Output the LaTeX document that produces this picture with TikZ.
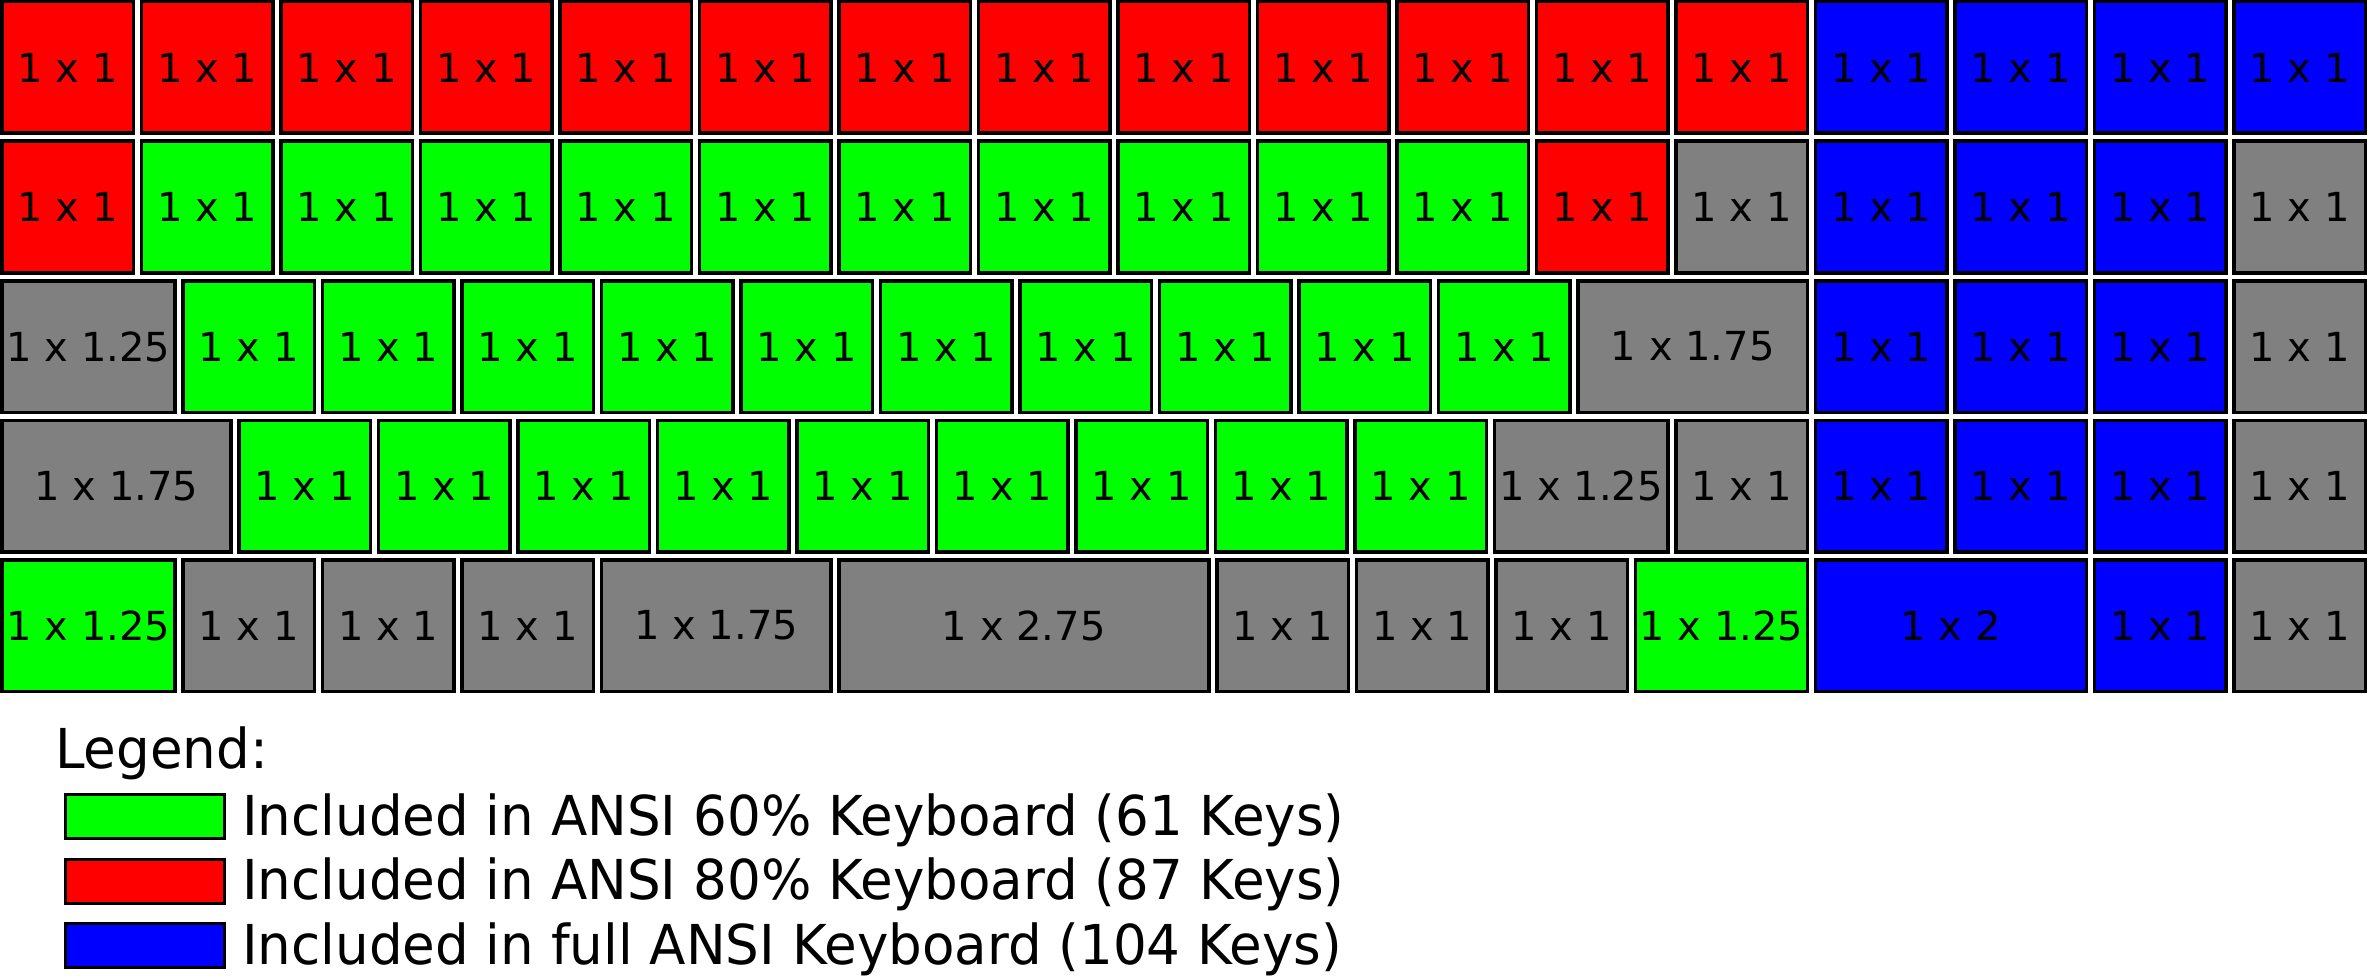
\documentclass[tikz,border=0pt]{standalone}
\usepackage{fontspec}
\setmainfont{DejaVu Sans}
\newfontfamily\legfont[FakeStretch=0.965]{DejaVu Sans}
\definecolor{kred}{HTML}{FF0000}
\definecolor{kgreen}{HTML}{00FF00}
\definecolor{kblue}{HTML}{0000FF}
\definecolor{kgray}{HTML}{808080}

% key pitch (one unit) in pt
\def\kp{139.5}

\tikzset{
  keybox/.style={draw=black, line width=3.5pt, rectangle, inner sep=0pt,
    anchor=north west, minimum height=131.5pt,
    font=\fontsize{40}{48}\selectfont},
  swatch/.style={draw=black, line width=3pt, rectangle, inner sep=0pt,
    anchor=north west, minimum width=159pt, minimum height=44pt},
  legtext/.style={anchor=base west, inner sep=0pt,
    font=\legfont\fontsize{55}{66}\selectfont},
}

% one row of keys: #1 = row index, #2 = list of colour/drawn width/label width
\newcommand\keyrow[2]{%
  \gdef\kcol{0}%
  \foreach \kc/\kw/\kl [count=\ki] in {#2} {%
    \pgfmathsetmacro\kxa{\kcol*\kp}%
    \pgfmathsetmacro\kwid{\kw*\kp-8}%
    \pgfmathsetmacro\kya{#1*\kp}%
    \node[keybox, fill=\kc, minimum width=\kwid pt] (k-#1-\ki) at (\kxa,\kya) {1 x \kl};
    \pgfmathsetmacro\knext{\kcol+\kw}%
    \xdef\kcol{\knext}%
  }%
}

\begin{document}
\begin{tikzpicture}[x=1pt,y=-1pt]
\useasboundingbox (0,0) rectangle (2369,979);

\keyrow{0}{kred/1/1,kred/1/1,kred/1/1,kred/1/1,kred/1/1,kred/1/1,kred/1/1,kred/1/1,kred/1/1,kred/1/1,kred/1/1,kred/1/1,kred/1/1,kblue/1/1,kblue/1/1,kblue/1/1,kblue/1/1}
\keyrow{1}{kred/1/1,kgreen/1/1,kgreen/1/1,kgreen/1/1,kgreen/1/1,kgreen/1/1,kgreen/1/1,kgreen/1/1,kgreen/1/1,kgreen/1/1,kgreen/1/1,kred/1/1,kgray/1/1,kblue/1/1,kblue/1/1,kblue/1/1,kgray/1/1}
\keyrow{2}{kgray/1.3/1.25,kgreen/1/1,kgreen/1/1,kgreen/1/1,kgreen/1/1,kgreen/1/1,kgreen/1/1,kgreen/1/1,kgreen/1/1,kgreen/1/1,kgreen/1/1,kgray/1.7/1.75,kblue/1/1,kblue/1/1,kblue/1/1,kgray/1/1}
\keyrow{3}{kgray/1.7/1.75,kgreen/1/1,kgreen/1/1,kgreen/1/1,kgreen/1/1,kgreen/1/1,kgreen/1/1,kgreen/1/1,kgreen/1/1,kgreen/1/1,kgray/1.3/1.25,kgray/1/1,kblue/1/1,kblue/1/1,kblue/1/1,kgray/1/1}
\keyrow{4}{kgreen/1.3/1.25,kgray/1/1,kgray/1/1,kgray/1/1,kgray/1.7/1.75,kgray/2.71/2.75,kgray/1/1,kgray/1/1,kgray/1/1,kgreen/1.29/1.25,kblue/2/2,kblue/1/1,kgray/1/1}

% legend
\node[legtext] (leg) at (55,768) {Legend:};
\node[swatch, fill=kgreen] (sw1) at (64,793) {};
\node[swatch, fill=kred]   (sw2) at (64,857.5) {};
\node[swatch, fill=kblue]  (sw3) at (64,922) {};
\node[legtext] (lt1) at (242,835) {Included in ANSI 60\% Keyboard (61 Keys)};
\node[legtext] (lt2) at (242,899.5) {Included in ANSI 80\% Keyboard (87 Keys)};
\node[legtext] (lt3) at (242,964) {Included in full ANSI Keyboard (104 Keys)};
\end{tikzpicture}
\end{document}
